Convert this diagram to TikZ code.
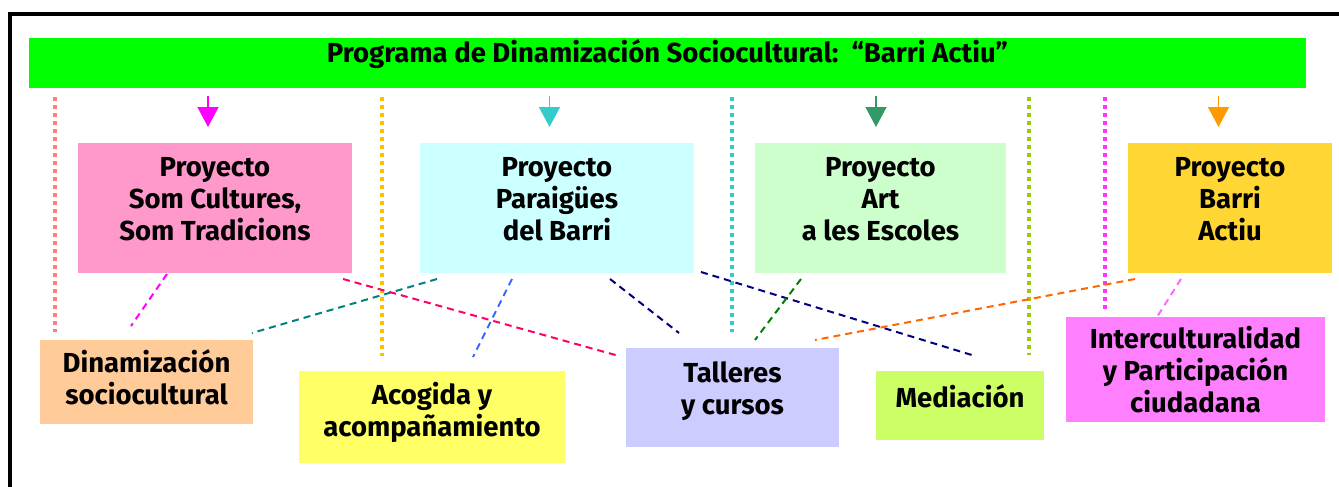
\documentclass[tikz,border=0pt]{standalone}
\usepackage{fontspec}
\setmainfont{Fira Sans}
\usetikzlibrary{arrows.meta}
\definecolor{bannergreen}{HTML}{00FF00}
\definecolor{boxpink}{HTML}{FF99CC}
\definecolor{boxcyan}{HTML}{CCFFFF}
\definecolor{boxmint}{HTML}{CCFFCC}
\definecolor{boxgold}{HTML}{FFD633}
\definecolor{boxpeach}{HTML}{FFCC99}
\definecolor{boxyellow}{HTML}{FFFF66}
\definecolor{boxlilac}{HTML}{CCCCFF}
\definecolor{boxlime}{HTML}{CCFF66}
\definecolor{boxorchid}{HTML}{FF80FF}
\definecolor{sepsalmon}{HTML}{FF7C80}
\definecolor{sepgold}{HTML}{FFC000}
\definecolor{sepcyan}{HTML}{33CCCC}
\definecolor{sepolive}{HTML}{99CC00}
\definecolor{sepmagenta}{HTML}{FF33FF}
\definecolor{arrmagenta}{HTML}{FF00FF}
\definecolor{arrgreen}{HTML}{339966}
\definecolor{arrorange}{HTML}{FF9900}
\definecolor{lnkteal}{HTML}{008080}
\definecolor{lnkcrimson}{HTML}{FF0066}
\definecolor{lnkblue}{HTML}{3366FF}
\definecolor{lnknavy}{HTML}{000080}
\definecolor{lnkgreen}{HTML}{008000}
\definecolor{lnkorange}{HTML}{FF6600}
\definecolor{lnkpink}{HTML}{FF66FF}
\tikzstyle{box}=[inner sep=0pt, outer sep=0pt, align=center, font=\bfseries\fontsize{27.5}{32}\selectfont]
\tikzstyle{proj}=[box, minimum height=130pt]
\tikzstyle{area}=[box]
\tikzstyle{sep}=[line width=4pt, dash pattern=on 4pt off 4pt]
\tikzstyle{link}=[line width=2pt, dash pattern=on 7pt off 5pt]
\tikzstyle{arr}=[line width=1.5pt, -{Triangle[width=21pt,length=20pt]}]

\begin{document}
\begin{tikzpicture}[x=1pt, y=-1pt]
        \useasboundingbox (0, 0) rectangle (1339, 487);
        \draw[line width=3.5pt] (10, 487) -- (10, 14) -- (1339, 14);
        \node[box, fill=bannergreen, minimum width=1277pt, minimum height=50pt, text height=12pt, text depth=12pt] (banner) at (667.5, 63) {Programa de Dinamización Sociocultural:\ \ “Barri Actiu”};
        \node[proj, fill=boxpink, minimum width=274pt, text height=80pt, text depth=16pt] (somcult) at (215, 208) {Proyecto\\Som Cultures,\\Som Tradicions};
        \node[proj, fill=boxcyan, minimum width=274pt, text height=80pt, text depth=16pt] (paraig) at (557, 208) {Proyecto\\Paraigües\\del Barri};
        \node[proj, fill=boxmint, minimum width=251pt, text height=80pt, text depth=16pt] (art) at (880.5, 208) {Proyecto\\Art\\a les Escoles};
        \node[proj, fill=boxgold, minimum width=204pt, text height=80pt, text depth=16pt] (barri) at (1230, 208) {Proyecto\\Barri\\Actiu};
        \node[area, fill=boxpeach, minimum width=213pt, minimum height=84pt, text height=50pt, text depth=6pt] (dinam) at (146.5, 382) {Dinamización\\sociocultural};
        \node[area, fill=boxyellow, minimum width=266pt, minimum height=92pt, text height=46pt, text depth=8pt] (acogida) at (432, 417) {Acogida y\\acompañamiento};
        \node[area, fill=boxlilac, minimum width=213pt, minimum height=99pt, text height=42pt, text depth=9pt] (talleres) at (732.5, 397.5) {Talleres\\y cursos};
        \node[area, fill=boxlime, minimum width=168pt, minimum height=69pt, text height=14pt, text depth=10pt] (mediacion) at (960, 405.5) {Mediación};
        \node[area, fill=boxorchid, minimum width=259pt, minimum height=105pt, text height=92pt, text depth=6pt] (intercult) at (1195.5, 369.5) {Interculturalidad\\y Participación\\ciudadana};
        % separadores
        \draw[sep, sepsalmon] (55, 97) -- (55, 332);
        \draw[sep, sepgold] (382, 97) -- (382, 356);
        \draw[sep, sepcyan] (732, 97) -- (732, 332);
        \draw[sep, sepolive] (1029, 97) -- (1029, 355);
        \draw[sep, sepmagenta] (1105, 97) -- (1105, 309);
        % flechas
        \draw[arr, arrmagenta] ([xshift=-7, yshift=47]somcult.north) -- ([xshift=-7, yshift=16]somcult.north);
        \draw[arr, sepcyan] ([xshift=-7.5, yshift=47]paraig.north) -- ([xshift=-7.5, yshift=16]paraig.north);
        \draw[arr, arrgreen] ([xshift=-4.5, yshift=47]art.north) -- ([xshift=-4.5, yshift=16]art.north);
        \draw[arr, arrorange] ([xshift=-11.5, yshift=47]barri.north) -- ([xshift=-11.5, yshift=16]barri.north);
        % enlaces
        \draw[link, arrmagenta] ([xshift=89, yshift=-1]somcult.south west) -- ([xshift=91, yshift=14]dinam.north west);
        \draw[link, lnkteal] ([xshift=17, yshift=-6]paraig.south west) -- ([xshift=-1, yshift=7]dinam.north east);
        \draw[link, lnkcrimson] ([xshift=-9, yshift=-6]somcult.south east) -- ([xshift=-7, yshift=-8]talleres.north west);
        \draw[link, lnkblue] ([xshift=92, yshift=-6]paraig.south west) -- ([xshift=174, yshift=14]acogida.north west);
        \draw[link, lnknavy] ([xshift=190, yshift=-6]paraig.south west) -- ([xshift=53, yshift=15]talleres.north west);
        \draw[link, lnknavy] ([xshift=7, yshift=1]paraig.south east) -- ([xshift=99, yshift=15]mediacion.north west);
        \draw[link, lnkgreen] ([xshift=46, yshift=-6]art.south west) -- ([xshift=129, yshift=8]talleres.north west);
        \draw[link, lnkorange] ([xshift=7, yshift=-6]barri.south west) -- ([xshift=-24, yshift=8]talleres.north east);
        \draw[link, lnkpink] ([xshift=53, yshift=-6]barri.south west) -- ([xshift=91, yshift=0]intercult.north west);
    \end{tikzpicture}
\end{document}
